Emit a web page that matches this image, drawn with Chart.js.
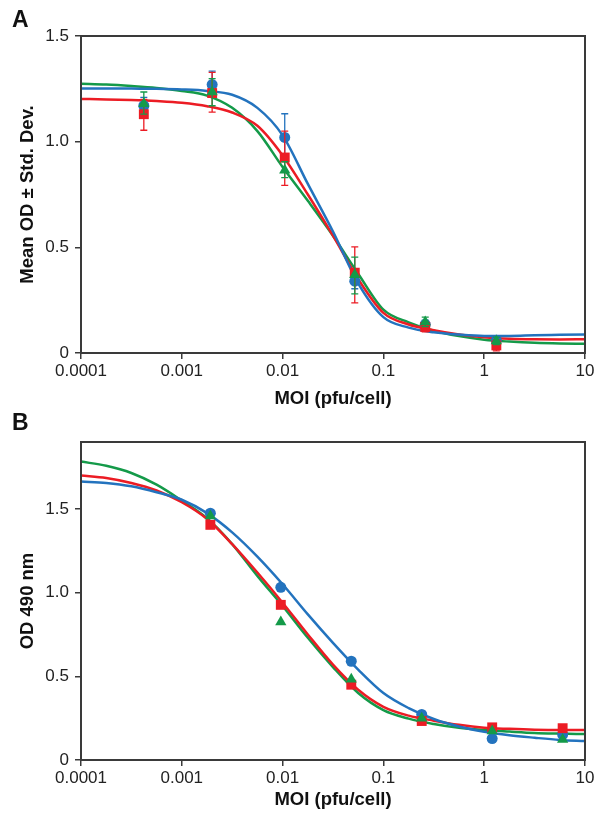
<!DOCTYPE html>
<html>
<head>
<meta charset="utf-8">
<script src="https://cdn.jsdelivr.net/npm/chart.js@4.4.0/dist/chart.umd.min.js"></script>
<style>
  body { margin: 0; background: #fff; }
  #wrap { position: relative; width: 600px; height: 813px; }
  canvas { position: absolute; left: 0; }
  .panel { position: absolute; left: 12px; font: bold 23px "Liberation Sans", Arial, sans-serif; line-height: 1; color: #111; }
</style>
</head>
<body>
<div id="wrap">
  <canvas id="chartA" width="600" height="410" style="top:0"></canvas>
  <canvas id="chartB" width="600" height="403" style="top:410px"></canvas>
  <div class="panel" style="top:8px">A</div>
  <div class="panel" style="top:411px">B</div>
</div>
<script>
// tick labels
var xTicks = [0.0001, 0.001, 0.01, 0.1, 1, 10];
var xTickLabels = ["0.0001", "0.001", "0.01", "0.1", "1", "10"];
var yTicks = [0, 0.5, 1.0, 1.5];
var yTickLabels = ["0", "0.5", "1.0", "1.5"];

// Panel A - measured means (MOI)
var moiA = [0.00042, 0.002, 0.0105, 0.052, 0.26, 1.32];
var blueA = [1.17, 1.27, 1.02, 0.34, 0.135, 0.06];
var redA = [1.13, 1.23, 0.925, 0.38, 0.123, 0.036];
var greenA = [1.18, 1.235, 0.865, 0.37, 0.147, 0.057];
// std. dev. bars (low / high)
var blueALow = [1.13, 1.215, 0.92, 0.304, 0.12, 0.05];
var blueAHigh = [1.21, 1.334, 1.132, 0.38, 0.155, 0.07];
var redALow = [1.054, 1.14, 0.793, 0.237, 0.1, 0.01];
var redAHigh = [1.2, 1.328, 1.05, 0.502, 0.146, 0.062];
var greenALow = [1.13, 1.17, 0.83, 0.28, 0.125, 0.04];
var greenAHigh = [1.235, 1.298, 0.905, 0.454, 0.17, 0.075];

var fitMoi = [0.0001, 0.000178, 0.000316, 0.000562, 0.001, 0.00178, 0.00316, 0.00562, 0.01, 0.0178,
    0.0316, 0.0562, 0.1, 0.178, 0.316, 0.562, 1, 1.78, 3.16, 5.62, 10];

// Panel A - fitted curves
var blueFitA = [1.252, 1.252, 1.251, 1.25, 1.247, 1.24, 1.222, 1.16, 1.03, 0.8,
    0.575, 0.33, 0.17, 0.12, 0.098, 0.087, 0.081, 0.081, 0.084, 0.086, 0.088];
var redFitA = [1.202, 1.2, 1.197, 1.192, 1.184, 1.168, 1.138, 1.075, 0.935, 0.75,
    0.555, 0.35, 0.19, 0.135, 0.108, 0.088, 0.075, 0.068, 0.065, 0.064, 0.065];
var greenFitA = [1.274, 1.27, 1.263, 1.254, 1.24, 1.218, 1.16, 1.05, 0.88, 0.72,
    0.555, 0.375, 0.205, 0.145, 0.105, 0.08, 0.063, 0.054, 0.048, 0.045, 0.044];

// Panel B - measured points
var moiB = [0.00192, 0.0096, 0.048, 0.24, 1.2, 6];
var blueB = [1.475, 1.032, 0.59, 0.272, 0.128, 0.152];
var redB = [1.405, 0.927, 0.45, 0.233, 0.195, 0.19];
var greenB = [1.458, 0.825, 0.483, 0.249, 0.173, 0.122];

// Panel B - fitted curves
var blueFitB = [1.664, 1.655, 1.635, 1.6, 1.555, 1.475, 1.36, 1.215, 1.05, 0.87,
    0.7, 0.54, 0.4, 0.31, 0.245, 0.2, 0.169, 0.148, 0.133, 0.12, 0.113];
var redFitB = [1.7, 1.685, 1.655, 1.61, 1.54, 1.44, 1.29, 1.12, 0.94, 0.75,
    0.57, 0.42, 0.318, 0.265, 0.235, 0.21, 0.193, 0.186, 0.181, 0.179, 0.179];
var greenFitB = [1.783, 1.758, 1.715, 1.645, 1.55, 1.445, 1.29, 1.1, 0.92, 0.73,
    0.555, 0.4, 0.298, 0.247, 0.215, 0.192, 0.179, 0.17, 0.162, 0.158, 0.155];

var BLUE = "#2373be", RED = "#ec1c24", GREEN = "#149a49";
var FONT = "'Liberation Sans', Arial, Helvetica, sans-serif";

function pts(xs, ys) {
    return xs.map(function (x, i) { return { x: x, y: ys[i] }; });
}

function curve(xs, ys, color) {
    return {
        data: pts(xs, ys), showLine: true, borderColor: color, borderWidth: 2.5,
        pointRadius: 0, cubicInterpolationMode: "monotone", order: 10
    };
}

function marks(xs, ys, color, style, r, order, low, high) {
    return {
        data: pts(xs, ys), showLine: false, pointStyle: style, pointRadius: r,
        backgroundColor: color, borderColor: color, borderWidth: 0, order: order,
        errLow: low, errHigh: high
    };
}

// error bars, drawn just before each marker dataset
var errorBars = {
    id: "errorBars",
    beforeDatasetDraw: function (chart, args) {
        var ds = chart.data.datasets[args.index];
        if (!ds.errLow) return;
        var ctx = chart.ctx, xs = chart.scales.x, ys = chart.scales.y;
        ctx.save();
        ctx.strokeStyle = ds.borderColor;
        ctx.lineWidth = 1.3;
        ds.data.forEach(function (p, i) {
            var px = xs.getPixelForValue(p.x);
            var lo = ys.getPixelForValue(ds.errLow[i]);
            var hi = ys.getPixelForValue(ds.errHigh[i]);
            ctx.beginPath();
            ctx.moveTo(px, lo); ctx.lineTo(px, hi);
            ctx.moveTo(px - 3.5, lo); ctx.lineTo(px + 3.5, lo);
            ctx.moveTo(px - 3.5, hi); ctx.lineTo(px + 3.5, hi);
            ctx.stroke();
        });
        ctx.restore();
    }
};

// box around the plot area
var frame = {
    id: "frame",
    afterDraw: function (chart) {
        var a = chart.chartArea, ctx = chart.ctx;
        ctx.save();
        ctx.strokeStyle = "#3a3a3a";
        ctx.lineWidth = 2;
        ctx.strokeRect(a.left, a.top, a.right - a.left, a.bottom - a.top);
        ctx.restore();
    }
};

function makeChart(id, datasets, opt) {
    return new Chart(document.getElementById(id), {
        type: "scatter",
        data: { datasets: datasets },
        plugins: [errorBars, frame],
        options: {
            responsive: false,
            animation: false,
            devicePixelRatio: 1,
            layout: { padding: { top: opt.top, right: 15, left: 0, bottom: 0 } },
            plugins: { legend: { display: false }, tooltip: { enabled: false } },
            scales: {
                x: {
                    type: "logarithmic", min: 0.0001, max: 10,
                    afterBuildTicks: function (s) { s.ticks = xTicks.map(function (v) { return { value: v }; }); },
                    afterFit: function (s) { s.height = opt.xHeight; },
                    ticks: {
                        color: "#222", font: { family: FONT, size: 17 }, padding: 2, maxRotation: 0, autoSkip: false,
                        callback: function (v, i) { return xTickLabels[i]; }
                    },
                    grid: { display: true, drawOnChartArea: false, drawTicks: true, tickLength: 6, color: "#3a3a3a", lineWidth: 1.5 },
                    border: { color: "#3a3a3a", width: 2 },
                    title: { display: true, text: "MOI (pfu/cell)", color: "#111", font: { family: FONT, size: 18.5, weight: "bold" }, padding: { top: 0, bottom: opt.xTitlePad } }
                },
                y: {
                    min: 0, max: opt.yMax,
                    afterBuildTicks: function (s) { s.ticks = yTicks.map(function (v) { return { value: v }; }); },
                    afterFit: function (s) { s.width = 81; },
                    ticks: {
                        color: "#222", font: { family: FONT, size: 17 }, padding: 6,
                        callback: function (v, i) { return yTickLabels[i]; }
                    },
                    grid: { display: true, drawOnChartArea: false, drawTicks: true, tickLength: 6, color: "#3a3a3a", lineWidth: 1.5 },
                    border: { color: "#3a3a3a", width: 2 },
                    title: { display: true, text: opt.yTitle, color: "#111", font: { family: FONT, size: 18.5, weight: "bold" }, padding: { top: 17, bottom: 0 } }
                }
            }
        }
    });
}

makeChart("chartA", [
    curve(fitMoi, blueFitA, BLUE),
    curve(fitMoi, redFitA, RED),
    curve(fitMoi, greenFitA, GREEN),
    marks(moiA, blueA, BLUE, "circle", 5.5, 3, blueALow, blueAHigh),
    marks(moiA, redA, RED, "rect", 7, 2, redALow, redAHigh),
    marks(moiA, greenA, GREEN, "triangle", 6.5, 1, greenALow, greenAHigh)
], { top: 36, xHeight: 57, xTitlePad: 0, yMax: 1.5, yTitle: "Mean OD ± Std. Dev." });

makeChart("chartB", [
    curve(fitMoi, blueFitB, BLUE),
    curve(fitMoi, redFitB, RED),
    curve(fitMoi, greenFitB, GREEN),
    marks(moiB, blueB, BLUE, "circle", 5.5, 3),
    marks(moiB, redB, RED, "rect", 7, 2),
    marks(moiB, greenB, GREEN, "triangle", 6.5, 1)
], { top: 32, xHeight: 53, xTitlePad: 2, yMax: 1.9, yTitle: "OD 490 nm" });
</script>
</body>
</html>
